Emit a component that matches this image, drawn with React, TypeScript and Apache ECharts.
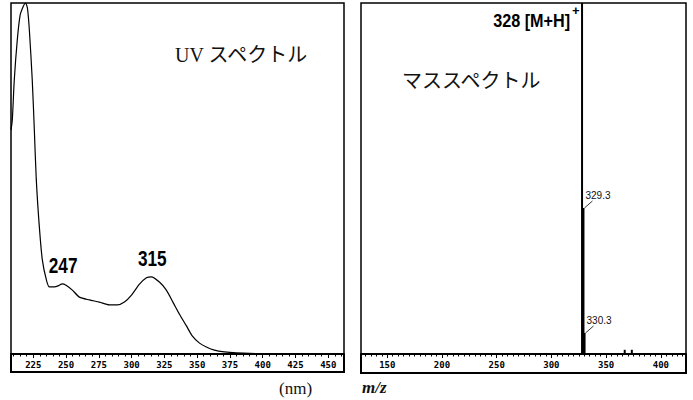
import React, { useEffect, useRef } from "react";
import * as echarts from "echarts";

// UV absorption spectrum (wavelength in nm, relative absorbance in %)
const uvWavelength = [
  208, 209, 210.5, 212.8, 215, 217.4, 219, 220.5, 222, 224.2, 225.8, 227.3,
  229.5, 231.9, 235, 237.3, 241, 244.5, 247, 250, 254.8, 260.2, 267.8, 275.4,
  283, 289.2, 294.5, 299.9, 306, 311.3, 315, 321.2, 326.5, 331.9, 336.4,
  341.8, 346.4, 351.8, 357, 363.2, 370.8, 380, 390, 428, 462,
];
const uvAbsorbance = [
  63.8, 66.7, 78.1, 89.5, 96.6, 99.1, 100, 98.6, 92.3, 78.1, 63.8, 49.6,
  36.8, 26.8, 21.1, 19.1, 19.1, 19.5, 20.0, 19.6, 18.2, 16.2, 15.4, 14.8,
  14.0, 14.0, 14.8, 16.8, 19.9, 21.7, 22.0, 20.5, 18.2, 14.5, 11.4,
  8.0, 5.1, 3.1, 2.0, 1.1, 0.6, 0.3, 0.15, 0, 0,
];
const uvPeakLabels = [247, 315];
const uvTickLabels = [225, 250, 275, 300, 325, 350, 375, 400, 425, 450];
const uvRange = [208, 462];

// Mass spectrum (m/z, relative intensity in %)
const msMz = [328, 329.3, 330.3, 367, 373.5];
const msIntensity = [100, 41.6, 6.0, 1.2, 1.2];
const msBaseIon = 328;
const msBaseIonName = "[M+H]";
const msIsotopeLabels = [329.3, 330.3];
const msTickLabels = [150, 200, 250, 300, 350, 400];
const msRange = [126, 423];

// panel geometry: plot area plus the scale box hanging beneath it
const PLOT_TOP = 3;
const PLOT_H = 351;
const UV_BOX_H = 18;
const MS_BOX_H = 19;

function stepValues(lo: number, hi: number, step: number): number[] {
  const out: number[] = [];
  for (let v = Math.ceil(lo / step) * step; v <= hi; v += step) out.push(v);
  return out;
}

const SANS = "'Liberation Sans', Arial, sans-serif";
const SERIF = "'Liberation Serif', 'Times New Roman', 'Noto Sans CJK JP', serif";
const MONO = "'DejaVu Sans Mono', 'Liberation Mono', monospace";

// outline of the scale box along the bottom of a panel
function scaleBoxSeries(xAxisIndex: number, yAxisIndex: number, box: number) {
  return {
    type: "custom",
    xAxisIndex,
    yAxisIndex,
    clip: false,
    silent: true,
    z: 20,
    data: [[0]],
    renderItem: (params: any) => {
      const cs = params.coordSys;
      const bottom = cs.y + cs.height;
      const top = bottom - box;
      return {
        type: "polyline",
        shape: {
          points: [
            [cs.x, top],
            [cs.x, bottom],
            [cs.x + cs.width, bottom],
            [cs.x + cs.width, top],
          ],
        },
        style: { stroke: "#000", lineWidth: 2, fill: null },
      };
    },
  };
}

export default function App() {
  const ref = useRef<HTMLDivElement>(null);

  useEffect(() => {
    if (!ref.current) return;
    const chart = echarts.init(ref.current, undefined, { renderer: "svg" });

    const uvData = uvWavelength.map((w, i) => [w, uvAbsorbance[i]]);
    const uvPeaks = uvPeakLabels.map((w) => [w, uvAbsorbance[uvWavelength.indexOf(w)]]);
    const msData = msMz.map((m, i) => [m, msIntensity[i]]);
    const msIsotopes = msIsotopeLabels.map((m) => [m, msIntensity[msMz.indexOf(m)]]);
    const msBase = [[msBaseIon, msIntensity[msMz.indexOf(msBaseIon)]]];

    // the x axis sits on top of the scale box, ticks and labels inside it
    const majorAxis = (gridIndex: number, range: number[], labels: number[], box: number) => ({
      type: "value",
      gridIndex,
      min: range[0],
      max: range[1],
      position: "bottom",
      offset: -box,
      splitLine: { show: false },
      axisLine: { show: true, onZero: false, lineStyle: { color: "#000", width: 2 } },
      axisTick: {
        show: true,
        inside: false,
        length: 4,
        customValues: labels,
        lineStyle: { color: "#000", width: 1 },
      },
      axisLabel: {
        show: true,
        customValues: labels,
        margin: 6,
        color: "#000",
        fontSize: 9,
        fontWeight: "bold",
        fontFamily: MONO,
        hideOverlap: false,
      },
    });

    const minorAxis = (gridIndex: number, range: number[], box: number) => ({
      type: "value",
      gridIndex,
      min: range[0],
      max: range[1],
      position: "bottom",
      offset: -box,
      splitLine: { show: false },
      axisLine: { show: false, onZero: false },
      axisTick: {
        show: true,
        inside: false,
        length: 2.5,
        customValues: stepValues(range[0], range[1], 5),
        lineStyle: { color: "#000", width: 1 },
      },
      axisLabel: { show: false },
    });

    // value 0 lands on the top of the scale box
    const valueAxis = (gridIndex: number, box: number) => ({
      type: "value",
      gridIndex,
      min: -(100 * box) / PLOT_H,
      max: 100,
      show: false,
    });

    chart.setOption({
      animation: false,
      backgroundColor: "#fff",
      title: [
        {
          text: "UV スペクトル",
          left: 170,
          top: 40,
          textStyle: { fontFamily: SERIF, fontSize: 20, fontWeight: "normal", color: "#111" },
        },
        {
          text: "マススペクトル",
          left: 397,
          top: 64,
          textStyle: {
            fontFamily: "'Noto Sans CJK JP', sans-serif",
            fontSize: 20,
            fontWeight: "normal",
            color: "#111",
          },
        },
      ],
      grid: [
        { left: 11, top: PLOT_TOP, width: 333, height: PLOT_H + UV_BOX_H, show: true, borderColor: "#000", borderWidth: 1.5 },
        { left: 361, top: PLOT_TOP, width: 325, height: PLOT_H + MS_BOX_H, show: true, borderColor: "#000", borderWidth: 1.5 },
      ],
      xAxis: [
        majorAxis(0, uvRange, uvTickLabels, UV_BOX_H),
        minorAxis(0, uvRange, UV_BOX_H),
        majorAxis(1, msRange, msTickLabels, MS_BOX_H),
        minorAxis(1, msRange, MS_BOX_H),
      ],
      yAxis: [valueAxis(0, UV_BOX_H), valueAxis(1, MS_BOX_H)],
      graphic: {
        elements: [
          { type: "text", x: 279, y: 380, style: { text: "(nm)", fontFamily: SERIF, fontSize: 17, fill: "#111" } },
          { type: "text", x: 362, y: 379, style: { text: "m/z", fontFamily: SERIF, fontSize: 17, fontStyle: "italic", fontWeight: "bold", fill: "#111" } },
        ],
      },
      series: [
        scaleBoxSeries(0, 0, UV_BOX_H),
        scaleBoxSeries(2, 1, MS_BOX_H),
        {
          type: "line",
          xAxisIndex: 0,
          yAxisIndex: 0,
          data: uvData,
          showSymbol: false,
          symbol: "none",
          smooth: 0.25,
          lineStyle: { color: "#000", width: 1.2 },
          clip: true,
        },
        {
          type: "custom",
          xAxisIndex: 0,
          yAxisIndex: 0,
          data: uvPeaks,
          renderItem: (_params: any, api: any) => {
            const p = api.coord([api.value(0), api.value(1)]);
            return {
              type: "text",
              x: p[0] + 1,
              y: p[1] - 19,
              scaleX: 0.78,
              style: {
                text: String(api.value(0)),
                fill: "#000",
                fontSize: 22,
                fontWeight: "bold",
                fontFamily: SANS,
                align: "center",
                verticalAlign: "middle",
              },
            };
          },
        },
        {
          type: "bar",
          xAxisIndex: 2,
          yAxisIndex: 1,
          data: msData,
          barWidth: 2,
          itemStyle: { color: "#000" },
        },
        {
          type: "custom",
          xAxisIndex: 2,
          yAxisIndex: 1,
          data: msIsotopes,
          renderItem: (_params: any, api: any) => {
            const p = api.coord([api.value(0), api.value(1)]);
            return {
              type: "group",
              children: [
                {
                  type: "line",
                  shape: { x1: p[0] + 1, y1: p[1], x2: p[0] + 9, y2: p[1] - 7 },
                  style: { stroke: "#000", lineWidth: 0.8 },
                },
                {
                  type: "text",
                  x: p[0] + 2,
                  y: p[1] - 12,
                  style: {
                    text: api.value(0).toFixed(1),
                    fill: "#111",
                    fontSize: 10,
                    fontFamily: SANS,
                    align: "left",
                    verticalAlign: "middle",
                  },
                },
              ],
            };
          },
        },
        {
          type: "custom",
          xAxisIndex: 2,
          yAxisIndex: 1,
          data: msBase,
          renderItem: (_params: any, api: any) => {
            const p = api.coord([api.value(0), api.value(1)]);
            return {
              type: "group",
              children: [
                {
                  type: "text",
                  x: p[0] - 12,
                  y: p[1] + 18,
                  scaleX: 0.9,
                  style: {
                    text: `${api.value(0)} ${msBaseIonName}`,
                    fill: "#000",
                    fontSize: 18,
                    fontWeight: "bold",
                    fontFamily: SANS,
                    align: "right",
                    verticalAlign: "middle",
                  },
                },
                {
                  type: "text",
                  x: p[0] - 10,
                  y: p[1] + 7,
                  style: {
                    text: "+",
                    fill: "#000",
                    fontSize: 13,
                    fontWeight: "bold",
                    fontFamily: SANS,
                    align: "left",
                    verticalAlign: "middle",
                  },
                },
              ],
            };
          },
        },
      ],
    });

    return () => chart.dispose();
  }, []);

  return (
    <div
      ref={ref}
      style={{ position: "fixed", left: 0, top: 0, width: 693, height: 400, background: "#fff" }}
    />
  );
}
